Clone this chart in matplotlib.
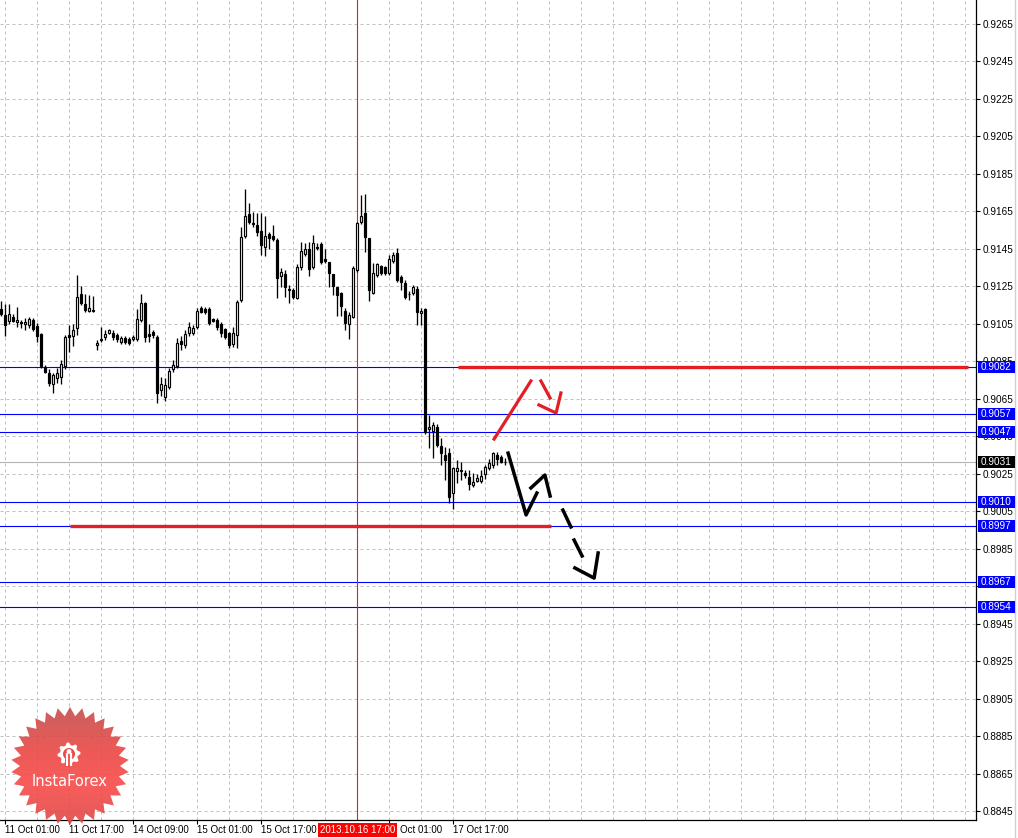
import numpy as np
import matplotlib

matplotlib.use("Agg")
import matplotlib.pyplot as plt
from matplotlib.patches import Polygon, Rectangle, Circle

W, H, DPI = 1018, 838, 100
FONT = "Liberation Sans"
GRID = "#c0c0c0"
BLUE = "#0000ff"
RED = "#e31e24"

# H1 bars, bar 0 = 11 Oct 01:00, first bar on screen is bar -1
FIRST_BAR = -1
OPEN = [0.91129, 0.91097, 0.91065, 0.91086, 0.91060, 0.91060, 0.91049, 0.91044, 0.91070, 0.91038,
        0.90996, 0.90819, 0.90787, 0.90729, 0.90761, 0.90766, 0.90825, 0.90990, 0.90985, 0.91028,
        0.91209, 0.91156, 0.91118, 0.91118, 0.90937, 0.90964, 0.90980, 0.91001, 0.91001, 0.90990,
        0.90953, 0.90974, 0.90969, 0.90969, 0.90969, 0.91070, 0.91161, 0.90996, 0.91006, 0.90980,
        0.90697, 0.90659, 0.90713, 0.90809, 0.90825, 0.90958, 0.90937, 0.91001, 0.91001, 0.91033,
        0.91134, 0.91129, 0.91129, 0.91076, 0.91070, 0.91049, 0.91022, 0.91001, 0.90942, 0.90990,
        0.91177, 0.91519, 0.91636, 0.91588, 0.91577, 0.91545, 0.91460, 0.91529, 0.91519, 0.91497,
        0.91305, 0.91316, 0.91236, 0.91230, 0.91188, 0.91353, 0.91423, 0.91449, 0.91353, 0.91460,
        0.91476, 0.91396, 0.91380, 0.91316, 0.91246, 0.91214, 0.91118, 0.91049, 0.91086, 0.91337,
        0.91593, 0.91641, 0.91508, 0.91214, 0.91310, 0.91358, 0.91353, 0.91321, 0.91385, 0.91428,
        0.91300, 0.91268, 0.91209, 0.91214, 0.91236, 0.91108, 0.91129, 0.90489, 0.90478, 0.90499,
        0.90398, 0.90350, 0.90360, 0.90147, 0.90264, 0.90264, 0.90254, 0.90232, 0.90190, 0.90211,
        0.90211, 0.90248, 0.90280, 0.90296, 0.90350, 0.90339, 0.90312]
HIGH = [0.91172, 0.91156, 0.91156, 0.91102, 0.91140, 0.91070, 0.91081, 0.91086, 0.91081, 0.91054,
        0.91001, 0.90830, 0.90809, 0.90787, 0.90814, 0.90857, 0.90990, 0.91044, 0.91049, 0.91310,
        0.91252, 0.91209, 0.91204, 0.91198, 0.90964, 0.91033, 0.91017, 0.91022, 0.91017, 0.91001,
        0.90985, 0.90985, 0.90980, 0.90990, 0.91129, 0.91209, 0.91166, 0.91049, 0.91017, 0.90990,
        0.90766, 0.90761, 0.90814, 0.90857, 0.90974, 0.90985, 0.91017, 0.91060, 0.91044, 0.91134,
        0.91145, 0.91140, 0.91140, 0.91081, 0.91081, 0.91060, 0.91028, 0.91006, 0.91033, 0.91177,
        0.91567, 0.91769, 0.91695, 0.91647, 0.91641, 0.91641, 0.91625, 0.91540, 0.91577, 0.91508,
        0.91348, 0.91337, 0.91257, 0.91241, 0.91369, 0.91487, 0.91481, 0.91487, 0.91524, 0.91481,
        0.91487, 0.91449, 0.91380, 0.91316, 0.91246, 0.91220, 0.91134, 0.91113, 0.91358, 0.91593,
        0.91737, 0.91743, 0.91508, 0.91374, 0.91374, 0.91364, 0.91358, 0.91417, 0.91433, 0.91455,
        0.91310, 0.91284, 0.91225, 0.91257, 0.91252, 0.91134, 0.91134, 0.90563, 0.90526, 0.90515,
        0.90441, 0.90393, 0.90387, 0.90286, 0.90323, 0.90312, 0.90270, 0.90270, 0.90254, 0.90248,
        0.90270, 0.90296, 0.90328, 0.90366, 0.90366, 0.90350, 0.90334]
LOW = [0.91092, 0.90985, 0.91049, 0.91060, 0.91033, 0.91028, 0.91017, 0.91028, 0.91012, 0.90953,
       0.90814, 0.90787, 0.90718, 0.90681, 0.90734, 0.90729, 0.90809, 0.90900, 0.90932, 0.90990,
       0.91150, 0.91113, 0.91113, 0.91113, 0.90910, 0.90953, 0.90964, 0.90996, 0.90964, 0.90953,
       0.90942, 0.90942, 0.90937, 0.90958, 0.90958, 0.91060, 0.90953, 0.90953, 0.90974, 0.90627,
       0.90665, 0.90638, 0.90702, 0.90793, 0.90814, 0.90910, 0.90921, 0.90985, 0.90990, 0.91022,
       0.91108, 0.91102, 0.91044, 0.91060, 0.91017, 0.90980, 0.90969, 0.90921, 0.90926, 0.90921,
       0.91166, 0.91508, 0.91583, 0.91567, 0.91519, 0.91417, 0.91412, 0.91449, 0.91492, 0.91188,
       0.91246, 0.91193, 0.91161, 0.91182, 0.91182, 0.91337, 0.91412, 0.91305, 0.91342, 0.91444,
       0.91369, 0.91374, 0.91246, 0.91204, 0.91092, 0.91092, 0.91017, 0.90969, 0.91081, 0.91326,
       0.91583, 0.91433, 0.91172, 0.91209, 0.91300, 0.91310, 0.91310, 0.91310, 0.91374, 0.91273,
       0.91230, 0.91182, 0.91177, 0.91204, 0.91044, 0.91044, 0.90462, 0.90387, 0.90334, 0.90393,
       0.90296, 0.90216, 0.90094, 0.90062, 0.90200, 0.90216, 0.90227, 0.90163, 0.90179, 0.90206,
       0.90200, 0.90222, 0.90270, 0.90280, 0.90296, 0.90307, 0.90296]
CLOSE = [0.91102, 0.91044, 0.91102, 0.91065, 0.91070, 0.91054, 0.91060, 0.91076, 0.91022, 0.90985,
         0.90825, 0.90793, 0.90734, 0.90777, 0.90787, 0.90835, 0.90980, 0.90980, 0.91017, 0.91193,
         0.91161, 0.91124, 0.91134, 0.91124, 0.90948, 0.90969, 0.90996, 0.91017, 0.90980, 0.90969,
         0.90974, 0.90953, 0.90948, 0.90980, 0.91076, 0.91161, 0.90980, 0.90985, 0.90990, 0.90681,
         0.90729, 0.90723, 0.90798, 0.90830, 0.90948, 0.90942, 0.90996, 0.91033, 0.91028, 0.91118,
         0.91113, 0.91113, 0.91054, 0.91065, 0.91033, 0.91001, 0.90980, 0.90937, 0.91001, 0.91166,
         0.91513, 0.91625, 0.91593, 0.91583, 0.91540, 0.91471, 0.91519, 0.91508, 0.91503, 0.91294,
         0.91326, 0.91246, 0.91230, 0.91193, 0.91353, 0.91439, 0.91449, 0.91342, 0.91481, 0.91455,
         0.91380, 0.91385, 0.91321, 0.91252, 0.91204, 0.91145, 0.91054, 0.91097, 0.91348, 0.91588,
         0.91625, 0.91513, 0.91230, 0.91321, 0.91369, 0.91321, 0.91321, 0.91396, 0.91417, 0.91284,
         0.91273, 0.91193, 0.91207, 0.91246, 0.91113, 0.91118, 0.90473, 0.90499, 0.90510, 0.90403,
         0.90360, 0.90323, 0.90126, 0.90280, 0.90280, 0.90270, 0.90243, 0.90195, 0.90206, 0.90227,
         0.90238, 0.90286, 0.90307, 0.90360, 0.90328, 0.90312, 0.90310]

PRICE_TICKS = [0.8845, 0.8865, 0.8885, 0.8905, 0.8925, 0.8945, 0.8965, 0.8985, 0.9005, 0.9025,
               0.9045, 0.9065, 0.9085, 0.9105, 0.9125, 0.9145, 0.9165, 0.9185, 0.9205, 0.9225,
               0.9245, 0.9265]
HIDDEN_PRICE_LABELS = [0.8965]          # fully under the 0.8967 tag
TIME_TICKS = [0, 16, 32, 48, 64, 96, 112]
TIME_LABELS = ["11 Oct 01:00", "11 Oct 17:00", "14 Oct 09:00", "15 Oct 01:00",
               "15 Oct 17:00", "17 Oct 01:00", "17 Oct 17:00"]
CURSOR_BAR, CURSOR_LABEL = 88, "2013.10.16 17:00"

BLUE_LEVELS = [0.9082, 0.9057, 0.9047, 0.9010, 0.8997, 0.8967, 0.8954]
BID = 0.9031

# hand-drawn objects: (price, first bar, last bar) and polylines in (bar, price)
RED_SEGMENTS = [(0.9082, 113.2, 240.7), (0.8997, 16.2, 136.4)]
RED_ARROW = [[(122.2, 0.90435), (131.4, 0.90745)],
             [(133.9, 0.90745), (136.2, 0.90654)],
             [(133.4, 0.90617), (137.7, 0.90574), (138.9, 0.90681)]]
BLACK_ARROW = [[(125.7, 0.90360), (130.2, 0.90030), (132.9, 0.90147)],
               [(131.4, 0.90174), (134.9, 0.90243), (136.2, 0.90131)],
               [(139.4, 0.90056), (141.4, 0.89966)],
               [(142.2, 0.89896), (144.2, 0.89811)],
               [(142.4, 0.89747), (147.2, 0.89693), (148.2, 0.89827)]]


def main():
    fig = plt.figure(figsize=(W / DPI, H / DPI), dpi=DPI, facecolor="white")
    ax = fig.add_axes([0, 18 / H, 976 / W, 820 / H])
    ax.set_xlim(-1.325, 242.675)
    ax.set_ylim(0.88402, 0.92778)
    for s in ("left", "top"):
        ax.spines[s].set_visible(False)
    for s in ("right", "bottom"):
        ax.spines[s].set_linewidth(0.9)

    # grid
    for p in PRICE_TICKS:
        ax.axhline(p, color=GRID, lw=0.72, ls=(0, (3, 3)), zorder=0)
    for b in range(0, 243, 8):
        ax.axvline(b, color=GRID, lw=0.72, ls=(0, (3, 3)), zorder=0)

    # levels
    for lv in BLUE_LEVELS:
        ax.axhline(lv, color=BLUE, lw=0.8, zorder=1)
    ax.axhline(BID, color="#b4b4b4", lw=0.8, zorder=1)
    ax.axvline(CURSOR_BAR, color=RED, lw=0.8, zorder=1)

    # candles
    xs = np.arange(FIRST_BAR, FIRST_BAR + len(OPEN))
    o, h, l, c = map(np.array, (OPEN, HIGH, LOW, CLOSE))
    ax.vlines(xs, l, h, color="black", lw=0.95, zorder=3)
    up = c >= o
    ax.bar(xs[up], c[up] - o[up], bottom=o[up], width=0.58, color="white",
           edgecolor="black", lw=0.85, zorder=4)
    ax.bar(xs[~up], c[~up] - o[~up], bottom=o[~up], width=0.58, color="black",
           edgecolor="black", lw=0.85, zorder=4)

    # hand-drawn lines
    for p, b0, b1 in RED_SEGMENTS:
        ax.plot([b0, b1], [p, p], color=RED, lw=2.4, solid_capstyle="butt", zorder=6)
    for seg in RED_ARROW:
        bx, py = zip(*seg)
        ax.plot(bx, py, color=RED, lw=2.3, zorder=6)
    for seg in BLACK_ARROW:
        bx, py = zip(*seg)
        ax.plot(bx, py, color="black", lw=2.5, zorder=6)

    # price scale
    ax.yaxis.tick_right()
    ax.set_yticks(PRICE_TICKS, ["" if p in HIDDEN_PRICE_LABELS else f"{p:.4f}"
                                for p in PRICE_TICKS])
    ax.tick_params(axis="y", length=3, width=0.8, pad=2, labelsize=7.2)
    for t in ax.get_yticklabels():
        t.set_fontfamily(FONT)
    ax.set_xticks(TIME_TICKS, [""] * len(TIME_TICKS))
    ax.tick_params(axis="x", length=3, width=0.8)

    # overlay in pixel coordinates (top-down) for labels and logo
    pix = fig.add_axes([0, 0, 1, 1], zorder=5)
    pix.set_xlim(0, W)
    pix.set_ylim(H, 0)
    pix.axis("off")
    fig.canvas.draw()

    def ypx(price):
        return H - ax.transData.transform((0, price))[1]

    def xpx(bar):
        return ax.transData.transform((bar, 0))[0]

    for lv in BLUE_LEVELS + [BID]:
        y = ypx(lv)
        col = "black" if lv == BID else BLUE
        pix.add_patch(Rectangle((978, y - 6), 37, 12, fc=col, ec="none", zorder=3))
        pix.text(981, y, f"{lv:.4f}", color="white", fontsize=7.2, family=FONT,
                 ha="left", va="center", zorder=4)

    cx = xpx(CURSOR_BAR)
    box_l, box_r = cx - 39.5, cx + 39.5
    for b, lbl in zip(TIME_TICKS, TIME_LABELS):
        x0 = xpx(b)
        if box_l - 50 < x0 < box_r:
            # the cursor tag hides the day number, only the rest shows
            lbl = lbl.split(" ", 1)[1]
            x0 = box_r + 3
        pix.text(x0, 830, lbl, fontsize=7.0, family=FONT, ha="left", va="center", zorder=2)
    pix.add_patch(Rectangle((box_l, 823), 79, 14, fc="#ff0000", ec="none", zorder=3))
    pix.text(cx, 830, CURSOR_LABEL, color="white", fontsize=7.0, family=FONT,
             ha="center", va="center", zorder=4)
    pix.plot([1015, 1015], [0, H], color="#d0d0d0", lw=1)

    # InstaForex badge
    lx, ly, R, r, n = 70, 766, 59, 50, 30
    ang = np.pi / 2 + np.arange(2 * n) * np.pi / n
    rad = np.where(np.arange(2 * n) % 2 == 0, R, r)
    star = Polygon(np.c_[lx + rad * np.cos(ang), ly - rad * np.sin(ang)], closed=True,
                   fill=False, ec="none")
    pix.add_patch(star)
    stops = np.array([[196, 78, 76], [236, 70, 68], [248, 74, 72], [222, 72, 70]]) / 255
    t = np.linspace(0, 1, 120)
    grad = np.stack([np.interp(t, [0, 0.4, 0.65, 1], stops[:, k]) for k in range(3)], axis=1)
    rgba = np.concatenate([grad, np.full((120, 1), 0.9)], axis=1)[:, None, :]
    im = pix.imshow(rgba, extent=(lx - R, lx + R, ly + R, ly - R), aspect="auto", zorder=6)
    im.set_clip_path(star)
    pix.set_xlim(0, W)
    pix.set_ylim(H, 0)

    gx, gy = 69, 754
    teeth = 8
    ta = np.linspace(0, 2 * np.pi, 4 * teeth, endpoint=False)
    tr = np.where((np.arange(4 * teeth) // 2) % 2 == 0, 11.5, 9)
    pix.add_patch(Polygon(np.c_[gx + tr * np.cos(ta), gy - tr * np.sin(ta)], fc="white",
                          ec="none", zorder=7))
    pix.add_patch(Circle((gx, gy), 6, fc="#f04846", ec="none", zorder=8))
    pix.add_patch(Rectangle((gx - 3.5, gy + 4), 7, 9, fc="#f04846", ec="none", zorder=8))
    pix.add_patch(Circle((gx, gy - 2.5), 2.4, fc="white", ec="none", zorder=9))
    pix.plot([gx - 2, gx - 2], [gy, gy + 11], color="white", lw=1.6, zorder=9)
    pix.plot([gx + 2, gx + 2], [gy, gy + 11], color="white", lw=1.6, zorder=9)
    pix.text(lx, 781, "InstaForex", color="white", fontsize=10.5, family="DejaVu Sans",
             ha="center", va="center", zorder=9)

    fig.savefig("out.png", dpi=DPI, facecolor="white")


if __name__ == "__main__":
    main()
